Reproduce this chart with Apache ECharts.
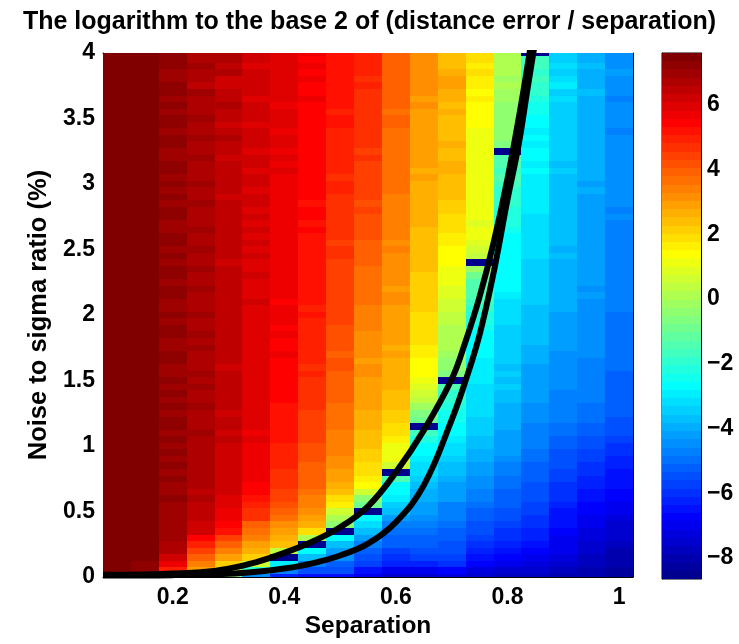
<!DOCTYPE html>
<html><head><meta charset="utf-8">
<script src="https://cdn.jsdelivr.net/npm/echarts@6/dist/echarts.min.js"></script>
<style>html,body{margin:0;padding:0;background:#fff}#c{width:739px;height:644px}</style>
</head><body><div id="c"></div>
<script>
// ---- data ----
const separations = [0.1,0.15,0.2,0.25,0.3,0.35,0.4,0.45,0.5,0.55,0.6,0.65,0.7,0.75,0.8,0.85,0.9,0.95,1.0];
const noiseLevels = [0,0.05,0.1,0.15,0.2,0.25,0.3,0.35,0.4,0.45,0.5,0.55,0.6,0.65,0.7,0.75,0.8,0.85,0.9,0.95,1,1.05,1.1,1.15,1.2,1.25,1.3,1.35,1.4,1.45,1.5,1.55,1.6,1.65,1.7,1.75,1.8,1.85,1.9,1.95,2,2.05,2.1,2.15,2.2,2.25,2.3,2.35,2.4,2.45,2.5,2.55,2.6,2.65,2.7,2.75,2.8,2.85,2.9,2.95,3,3.05,3.1,3.15,3.2,3.25,3.3,3.35,3.4,3.45,3.5,3.55,3.6,3.65,3.7,3.75,3.8,3.85,3.9,3.95,4];
const xTicks = [0.2,0.4,0.6,0.8,1];
const yTickLabels = ['0','0.5','1','1.5','2','2.5','3','3.5','4'];
const colorTicks = [-8,-6,-4,-2,0,2,4,6];
const colorMin = -8.65, colorMax = 7.6;

// log2(distance error / separation), one array per separation column, from noise 0 (first) to noise 4 (last)
const c010 = [7.5,7.6,7.6,7.6,7.6,7.6,7.6,7.6,7.6,7.6,
 7.6,7.6,7.6,7.6,7.6,7.6,7.6,7.6,7.6,7.6,
 7.6,7.6,7.6,7.6,7.6,7.6,7.6,7.6,7.6,7.6,
 7.6,7.6,7.6,7.6,7.6,7.6,7.6,7.6,7.6,7.6,
 7.6,7.6,7.6,7.6,7.6,7.6,7.6,7.6,7.6,7.6,
 7.6,7.6,7.6,7.6,7.6,7.6,7.6,7.6,7.6,7.6,
 7.6,7.6,7.6,7.6,7.6,7.6,7.6,7.6,7.6,7.6,
 7.6,7.6,7.6,7.6,7.6,7.6,7.6,7.6,7.6,7.6,
 7.6];
const c015 = [7.0,7.2,7.3,7.35,7.4,7.4,7.6,7.6,7.5,7.6,
 7.35,7.6,7.6,7.6,7.6,7.6,7.6,7.35,7.6,7.6,
 7.6,7.6,7.6,7.6,7.6,7.6,7.6,7.6,7.6,7.4,
 7.6,7.6,7.6,7.6,7.6,7.6,7.35,7.6,7.6,7.6,
 7.6,7.6,7.6,7.6,7.6,7.6,7.6,7.6,7.6,7.4,
 7.6,7.6,7.6,7.6,7.6,7.6,7.6,7.6,7.6,7.6,
 7.6,7.4,7.6,7.6,7.6,7.6,7.6,7.6,7.6,7.6,
 7.6,7.6,7.6,7.35,7.6,7.6,7.6,7.6,7.6,7.6,
 7.6];
const c020 = [3.5,5.0,5.8,6.2,6.7,6.8,6.9,6.95,7.0,6.9,
 7.0,7.05,7.1,7.0,7.05,7.1,7.0,7.1,7.05,7.1,
 7.05,7.1,7.0,7.1,7.15,7.05,7.1,7.0,7.1,7.05,
 7.1,7.0,7.05,7.1,7.1,7.0,7.05,7.1,7.1,7.05,
 7.1,7.05,7.0,7.1,7.1,7.05,7.1,7.15,7.05,7.1,
 7.05,7.1,7.1,7.0,7.05,7.1,7.1,7.05,7.1,7.0,
 7.1,7.05,7.1,7.1,7.0,7.05,7.1,7.1,7.05,7.1,
 7.3,7.05,7.1,7.05,7.1,7.1,7.0,7.05,7.1,7.1,
 7.1];
const c025 = [2.2,3.0,3.5,4.0,4.5,5.0,5.5,6.2,6.3,6.4,
 6.5,6.45,6.6,6.55,6.6,6.7,6.65,6.75,6.7,6.8,
 6.75,6.8,6.85,6.8,6.7,6.8,6.85,6.8,6.75,6.85,
 6.8,6.85,6.8,6.6,6.8,6.85,6.8,6.9,6.8,6.75,
 6.85,6.8,6.8,6.6,6.85,6.8,6.8,6.85,6.6,6.8,
 6.85,6.8,6.75,6.85,6.8,6.6,6.8,6.85,6.8,6.8,
 6.85,6.8,6.6,6.8,6.85,6.8,6.75,6.85,6.6,6.8,
 6.85,6.8,6.8,6.6,6.85,6.5,6.8,6.6,6.85,6.8,
 6.8];
const c030 = [-0.5,1.0,2.2,2.8,3.3,3.9,4.4,5.1,5.5,5.6,
 5.8,5.9,6.0,6.1,6.1,6.2,6.15,6.25,6.2,6.3,
 6.3,6.35,6.3,6.4,6.35,6.3,6.45,6.4,6.35,6.4,
 6.45,6.4,6.3,6.45,6.5,6.4,6.35,6.5,6.45,6.4,
 6.5,6.45,6.35,6.5,6.55,6.4,6.5,6.45,6.3,6.5,
 6.55,6.45,6.5,6.35,6.55,6.5,6.45,6.55,6.3,6.5,
 6.55,6.5,6.4,6.55,6.3,6.5,6.55,6.6,6.45,6.3,
 6.55,6.5,6.6,6.45,6.55,6.3,6.3,6.6,6.55,6.6,
 6.6];
const c035 = [-4.5,-2.0,0.5,2.1,2.6,3.0,3.4,3.7,4.0,4.6,
 4.8,5.0,5.2,5.4,5.5,5.6,5.65,5.7,5.7,5.75,
 5.8,5.85,5.8,5.9,5.85,5.9,5.95,5.85,5.9,5.95,
 5.9,6.0,5.95,5.9,6.0,6.05,5.95,6.0,6.05,5.95,
 6.0,6.05,6.1,5.95,6.05,6.0,6.1,6.05,5.95,6.1,
 6.05,6.1,6.0,6.15,6.05,6.1,6.0,6.1,6.15,6.05,
 6.1,6.15,6.05,6.2,6.1,6.0,6.15,6.1,6.2,6.05,
 6.15,6.2,6.1,6.0,6.2,6.15,6.1,6.2,6.0,6.15,
 6.2];
const c040 = [-6.2,-4.8,-3.0,-8.7,0.3,2.3,2.6,3.0,3.2,3.6,
 3.9,4.2,4.4,4.5,4.6,4.7,4.8,4.9,4.9,5.0,
 5.0,5.1,5.1,5.2,5.2,5.3,5.3,5.4,5.4,5.45,
 5.5,5.45,5.55,5.5,5.6,5.5,5.55,5.6,5.5,5.6,
 5.6,5.65,5.55,5.7,5.6,5.65,5.7,5.6,5.75,5.65,
 5.7,5.75,5.65,5.8,5.7,5.75,5.8,5.7,5.8,5.75,
 5.8,5.7,5.85,5.8,5.9,5.75,5.85,5.9,5.8,5.95,
 5.85,5.9,5.75,5.95,5.9,6.0,5.85,5.95,6.0,5.9,
 5.95];
const c045 = [-6.5,-5.4,-4.6,-3.6,-2.6,-8.7,0.0,1.8,2.6,3.0,
 3.2,3.3,3.5,3.6,3.8,3.8,3.9,4.0,4.1,4.1,
 4.2,4.3,4.3,4.4,4.5,4.5,4.6,4.7,4.7,4.8,
 4.8,4.85,4.8,4.9,4.9,4.95,4.9,5.0,5.0,5.05,
 5.1,5.05,5.15,5.1,5.2,5.15,5.2,5.25,5.2,5.3,
 5.25,5.3,5.2,5.35,5.3,5.35,5.4,5.3,5.4,5.35,
 5.4,5.45,5.35,5.5,5.4,5.45,5.5,5.4,5.55,5.45,
 5.5,5.55,5.45,5.6,5.5,5.55,5.6,5.5,5.6,5.55,
 5.6];
const c050 = [-6.4,-5.6,-5.1,-4.4,-4.1,-3.6,-2.6,-8.7,-0.5,0.0,
 0.5,1.7,2.0,2.3,2.6,2.8,3.0,3.1,3.2,3.3,
 3.4,3.45,3.5,3.6,3.6,3.7,3.7,3.8,3.8,3.9,
 4.0,3.95,4.05,4.1,4.0,4.15,4.2,4.1,4.25,4.3,
 4.4,4.3,4.45,4.4,4.5,4.45,4.4,4.55,4.5,4.6,
 4.6,4.55,4.7,4.6,4.75,4.7,4.65,4.8,4.75,4.85,
 4.9,4.8,4.95,4.9,5.0,4.9,5.05,5.0,4.95,5.1,
 5.1,5.05,5.15,5.2,5.1,5.25,5.2,5.15,5.3,5.25,
 5.3];
const c055 = [-7.0,-6.5,-5.8,-5.4,-5.1,-4.6,-4.1,-3.7,-3.3,-2.6,
 -8.7,-1.0,-0.4,0.6,1.3,1.6,1.9,2.0,2.1,2.2,
 2.4,2.5,2.5,2.6,2.7,2.7,2.8,2.8,2.9,3.0,
 3.0,3.05,3.1,3.0,3.15,3.2,3.25,3.2,3.35,3.4,
 3.5,3.45,3.55,3.6,3.55,3.7,3.75,3.7,3.85,3.9,
 4.0,3.95,4.1,4.05,4.15,4.2,4.3,4.25,4.35,4.4,
 4.4,4.5,4.45,4.55,4.6,4.5,4.65,4.6,4.7,4.65,
 4.7,4.75,4.7,4.8,4.75,4.85,4.8,4.9,4.85,4.9,
 4.9];
const c060 = [-7.5,-7.0,-6.3,-6.0,-5.7,-5.3,-5.1,-4.9,-4.6,-4.3,
 -3.8,-3.4,-3.0,-2.8,-2.6,-1.5,-8.7,0.5,1.0,1.1,
 1.2,1.7,1.9,2.0,2.1,2.2,2.3,2.5,2.5,2.6,
 2.7,2.65,2.75,2.7,2.8,2.75,2.85,2.8,2.9,2.95,
 3.0,2.95,3.05,3.1,3.0,3.15,3.1,3.2,3.15,3.25,
 3.3,3.25,3.3,3.4,3.35,3.45,3.4,3.5,3.45,3.55,
 3.6,3.55,3.65,3.6,3.7,3.65,3.7,3.75,3.65,3.8,
 3.8,3.75,3.85,3.9,3.8,3.95,3.9,4.0,3.9,4.0,
 4.0];
const c065 = [-7.5,-7.0,-6.2,-5.8,-5.5,-5.3,-5.1,-4.9,-4.7,-4.5,
 -4.3,-4.2,-4.0,-3.9,-3.7,-3.5,-3.3,-3.1,-2.9,-2.8,
 -2.6,-2.2,-1.6,-8.7,-0.9,-0.6,-0.2,0.3,0.6,0.9,
 1.2,1.4,1.5,1.5,1.6,1.7,1.8,1.9,1.9,2.0,
 2.0,2.1,2.15,2.1,2.2,2.25,2.2,2.3,2.35,2.3,
 2.4,2.45,2.5,2.45,2.55,2.6,2.55,2.65,2.7,2.65,
 2.75,2.8,2.7,2.85,2.8,2.9,2.85,2.95,2.9,3.0,
 3.0,2.95,3.05,3.0,3.1,3.05,3.15,3.1,3.2,3.15,
 3.2];
const c070 = [-7.2,-6.7,-6.1,-5.8,-5.6,-5.4,-5.3,-5.1,-5.0,-4.8,
 -4.7,-4.6,-4.3,-4.2,-4.1,-4.0,-3.8,-3.6,-3.5,-3.3,
 -3.1,-3.0,-2.8,-2.7,-2.5,-2.4,-2.2,-2.0,-1.8,-1.5,
 -8.7,-0.6,-0.5,-0.3,-0.2,0.0,0.0,0.1,0.2,0.3,
 0.3,0.5,0.6,0.8,0.9,1.0,1.1,1.2,1.3,1.5,
 1.5,1.6,1.7,1.8,1.9,2.0,2.1,2.2,2.3,2.3,
 2.3,2.5,2.6,2.7,2.5,2.5,2.6,2.4,2.5,2.5,
 2.5,2.6,2.5,2.6,2.7,2.8,2.8,2.7,2.5,2.5,
 2.5];
const c075 = [-7.6,-7.2,-6.8,-6.4,-6.2,-6.0,-5.8,-5.6,-5.5,-5.3,
 -5.2,-5.0,-4.8,-4.7,-4.5,-4.4,-4.3,-4.2,-4.0,-3.9,
 -3.6,-3.6,-3.5,-3.5,-3.4,-3.3,-3.3,-3.2,-3.1,-3.1,
 -3.0,-3.0,-2.9,-2.9,-2.8,-2.7,-2.6,-2.6,-2.4,-2.3,
 -2.1,-1.8,-1.6,-1.5,-1.5,-1.5,-1.0,-0.2,-8.7,0.4,
 0.7,0.9,1.0,1.0,0.9,1.0,1.0,1.1,1.0,1.0,
 1.1,1.0,1.1,1.2,1.1,1.0,1.1,1.1,1.2,1.3,
 1.4,1.5,1.5,1.6,1.5,1.6,1.7,1.8,1.7,1.8,
 1.8];
const c080 = [-7.8,-7.4,-7.1,-6.8,-6.5,-6.3,-6.1,-6.0,-5.8,-5.6,
 -5.5,-5.3,-5.2,-5.1,-5.0,-4.9,-4.7,-4.6,-4.5,-4.3,
 -4.2,-4.15,-4.1,-4.0,-4.0,-3.9,-3.85,-3.8,-3.8,-3.4,
 -3.7,-3.4,-3.6,-3.5,-3.4,-3.5,-3.4,-3.35,-3.4,-3.3,
 -3.3,-3.2,-3.1,-2.9,-2.8,-2.8,-2.7,-2.75,-2.7,-2.8,
 -2.7,-2.7,-2.6,-2.4,-2.2,-2.1,-2.2,-2.0,-1.8,-1.8,
 -1.6,-1.5,-1.6,-1.5,-1.4,-8.7,-0.6,-0.5,-0.45,-0.5,
 -0.4,-0.3,-0.3,-0.2,-0.1,0.0,-0.1,0.0,0.0,0.05,
 0.0];
const c085 = [-7.8,-7.5,-7.2,-7.0,-6.7,-6.5,-6.3,-6.2,-6.0,-5.9,
 -5.8,-5.7,-5.6,-5.5,-5.4,-5.3,-5.2,-5.1,-5.0,-4.9,
 -4.8,-4.75,-4.7,-4.6,-4.55,-4.5,-4.4,-4.3,-4.3,-4.2,
 -4.15,-4.1,-4.1,-4.0,-3.9,-3.9,-3.8,-3.75,-3.7,-3.65,
 -3.6,-3.6,-3.55,-3.5,-3.5,-3.45,-3.4,-3.4,-3.35,-3.3,
 -3.3,-3.2,-3.2,-3.15,-3.1,-3.1,-3.05,-3.0,-3.0,-2.95,
 -3.0,-2.9,-2.8,-3.0,-2.8,-2.7,-2.9,-2.8,-3.0,-2.8,
 -2.7,-2.5,-2.4,-2.3,-2.0,-1.8,-1.6,-2.0,-1.6,-1.7,
 -8.7];
const c090 = [-7.9,-7.7,-7.5,-7.3,-7.1,-7.0,-6.9,-6.7,-6.6,-6.5,
 -6.4,-6.2,-6.1,-6.0,-5.9,-5.8,-5.7,-5.6,-5.5,-5.4,
 -5.3,-5.2,-5.0,-4.9,-4.8,-4.7,-4.7,-4.6,-4.6,-4.5,
 -4.5,-4.45,-4.4,-4.4,-4.35,-4.3,-4.2,-4.25,-4.2,-4.1,
 -4.1,-4.0,-4.05,-4.0,-3.95,-4.0,-3.9,-3.85,-3.9,-3.8,
 -3.85,-3.8,-3.75,-3.8,-3.7,-3.75,-3.7,-3.65,-3.7,-3.6,
 -3.6,-3.65,-3.5,-3.6,-3.55,-3.5,-3.45,-3.5,-3.4,-3.45,
 -3.4,-3.35,-3.4,-3.3,-3.4,-3.0,-3.1,-3.4,-3.3,-3.4,
 -3.4];
const c095 = [-8.1,-8.0,-7.8,-7.7,-7.5,-7.4,-7.3,-7.2,-7.0,-6.9,
 -6.8,-6.7,-6.5,-6.4,-6.3,-6.2,-6.1,-6.0,-5.8,-5.7,
 -5.5,-5.4,-5.2,-5.1,-5.0,-4.9,-4.9,-4.8,-4.8,-4.7,
 -4.7,-4.65,-4.6,-4.6,-4.55,-4.5,-4.5,-4.45,-4.45,-4.4,
 -4.4,-4.35,-4.4,-4.3,-4.35,-4.3,-4.3,-4.25,-4.3,-4.2,
 -4.25,-4.2,-4.2,-4.15,-4.2,-4.1,-4.15,-4.1,-4.1,-4.05,
 -4.1,-4.0,-4.05,-4.0,-3.95,-4.0,-3.95,-3.9,-4.0,-3.9,
 -3.9,-3.95,-3.85,-3.9,-3.8,-3.9,-3.85,-3.9,-3.8,-3.9,
 -3.9];
const c100 = [-8.3,-8.2,-8.1,-8.0,-7.9,-7.8,-7.6,-7.5,-7.4,-7.2,
 -7.0,-6.9,-6.8,-6.7,-6.6,-6.5,-6.4,-6.3,-6.2,-6.0,
 -5.9,-5.8,-5.6,-5.5,-5.4,-5.3,-5.3,-5.2,-5.2,-5.15,
 -5.1,-5.1,-5.05,-5.0,-5.0,-5.0,-4.95,-4.9,-4.9,-4.85,
 -4.85,-4.8,-4.8,-4.75,-4.8,-4.7,-4.75,-4.7,-4.65,-4.7,
 -4.65,-4.6,-4.65,-4.6,-4.6,-4.55,-4.6,-4.5,-4.55,-4.5,
 -4.5,-4.55,-4.45,-4.5,-4.4,-4.5,-4.45,-4.4,-4.8,-4.45,
 -4.4,-4.45,-4.4,-4.7,-4.4,-4.35,-4.4,-4.3,-4.4,-4.35,
 -4.4];

// two black curves, [separation, noise %]
const curveA = [[0.075,0.018],[0.15,0.02],[0.2,0.027],[0.25,0.037],[0.3,0.065],[0.35,0.115],[0.4,0.185],[0.45,0.27],[0.5,0.38],[0.55,0.54],[0.6,0.8],[0.65,1.12],[0.7,1.51],[0.725,1.8],[0.75,2.14],[0.775,2.55],[0.8,3.04],[0.825,3.62],[0.845,4.15]];
const curveB = [[0.075,0.012],[0.2,0.015],[0.3,0.025],[0.35,0.04],[0.4,0.065],[0.45,0.105],[0.5,0.165],[0.55,0.255],[0.6,0.42],[0.65,0.7],[0.7,1.2],[0.725,1.5],[0.75,1.85],[0.775,2.32],[0.8,2.88],[0.82,3.3],[0.835,3.7],[0.852,4.15]];

// ---- build ----
const columns = [c010,c015,c020,c025,c030,c035,c040,c045,c050,c055,c060,c065,c070,c075,c080,c085,c090,c095,c100];
const cells = [];
columns.forEach((col, j) => {
  if (col.length !== noiseLevels.length) console.error('column', j, col.length);
  col.forEach((v, i) => cells.push([separations[j], noiseLevels[i], v]));
});

// MATLAB jet(64) colormap
function jet(n) {
  const m = Math.ceil(n / 4), u = [];
  for (let i = 1; i <= m; i++) u.push(i / m);
  for (let i = 0; i < m - 1; i++) u.push(1);
  for (let i = m; i >= 1; i--) u.push(i / m);
  const g0 = Math.ceil(n / 8) - (n % 4 === 1 ? 1 : 0);
  const J = Array.from({length: n}, () => [0, 0, 0]);
  for (let k = 1; k <= u.length; k++) {
    const g = g0 + k, r = g + m, b = g - m;
    if (r >= 1 && r <= n) J[r - 1][0] = u[k - 1];
    if (g >= 1 && g <= n) J[g - 1][1] = u[k - 1];
    if (b >= 1 && b <= n) J[b - 1][2] = u[k - 1];
  }
  return J.map(c => '#' + c.map(x => Math.round(x * 255).toString(16).padStart(2, '0')).join(''));
}
const NC = 64;
const cmap = jet(NC);
const step = (colorMax - colorMin) / NC;
const pieces = cmap.map((c, k) => {
  const p = {color: c};
  if (k > 0) p.gte = colorMin + k * step;
  if (k < NC - 1) p.lt = colorMin + (k + 1) * step;
  return p;
});
const bands = cmap.map((c, k) => [colorMin + k * step, colorMin + (k + 1) * step, colorMin + (k + 0.5) * step]);

const FONT = 'Liberation Sans, Arial, Helvetica, sans-serif';
const labelStyle = {fontFamily: FONT, fontWeight: 'bold', fontSize: 23, color: '#000'};
const lineBlack = {color: '#000', width: 1};
const halfW = 0.025, halfH = 0.025;

const chart = echarts.init(document.getElementById('c'), null, {renderer: 'canvas'});
chart.setOption({
  animation: false,
  backgroundColor: '#fff',
  title: {
    text: 'The logarithm to the base 2 of (distance error / separation)',
    left: 'center', top: 5,
    textStyle: {fontFamily: FONT, fontWeight: 'bold', fontSize: 25, color: '#000'}
  },
  grid: [
    {left: 103, top: 53, width: 530, height: 526, show: false},
    {left: 662, top: 53, width: 39, height: 526, show: true, borderColor: '#000', borderWidth: 1, backgroundColor: 'transparent'}
  ],
  visualMap: {
    type: 'piecewise', show: false, dimension: 2, seriesIndex: [0, 3], pieces: pieces
  },
  xAxis: [
    {type: 'value', gridIndex: 0, min: 0.075, max: 1.025, position: 'bottom',
     axisLine: {show: true, onZero: false, lineStyle: lineBlack},
     axisTick: {show: true, inside: true, length: 6, customValues: xTicks, lineStyle: lineBlack},
     axisLabel: Object.assign({customValues: xTicks, margin: 9, formatter: v => String(v)}, labelStyle),
     splitLine: {show: false},
     name: 'Separation', nameLocation: 'middle', nameGap: 36,
     nameTextStyle: {fontFamily: FONT, fontWeight: 'bold', fontSize: 24.5, color: '#000'}},
    {type: 'value', gridIndex: 0, min: 0.075, max: 1.025, position: 'top',
     axisLine: {show: true, onZero: false, lineStyle: lineBlack},
     axisTick: {show: true, inside: true, length: 6, customValues: xTicks, lineStyle: lineBlack},
     axisLabel: {show: false}, splitLine: {show: false}},
    {type: 'value', gridIndex: 1, min: 0, max: 1, show: false}
  ],
  yAxis: [
    {type: 'value', gridIndex: 0, min: 0, max: 4, interval: 0.5, position: 'left',
     axisLine: {show: true, onZero: false, lineStyle: lineBlack},
     axisTick: {show: true, inside: true, length: 6, lineStyle: lineBlack},
     axisLabel: Object.assign({margin: 8, formatter: (v, idx) => yTickLabels[idx] !== undefined ? yTickLabels[idx] : String(v)}, labelStyle),
     splitLine: {show: false},
     name: 'Noise to sigma ratio (%)', nameLocation: 'middle', nameGap: 51, nameRotate: 90,
     nameTextStyle: {fontFamily: FONT, fontWeight: 'bold', fontSize: 25.5, color: '#000'}},
    {type: 'value', gridIndex: 0, min: 0, max: 4, interval: 0.5, position: 'right',
     axisLine: {show: true, onZero: false, lineStyle: lineBlack},
     axisTick: {show: true, inside: true, length: 6, lineStyle: lineBlack},
     axisLabel: {show: false}, splitLine: {show: false}},
    {type: 'value', gridIndex: 1, min: colorMin, max: colorMax, position: 'right',
     axisLine: {show: true, onZero: false, lineStyle: lineBlack},
     axisTick: {show: true, inside: true, length: 5, customValues: colorTicks, lineStyle: lineBlack},
     axisLabel: Object.assign({customValues: colorTicks, margin: 6,
       formatter: v => v < 0 ? '\u2212' + (-v) : String(v)}, labelStyle),
     splitLine: {show: false}},
    {type: 'value', gridIndex: 1, min: colorMin, max: colorMax, position: 'left',
     axisLine: {show: true, onZero: false, lineStyle: lineBlack},
     axisTick: {show: true, inside: true, length: 5, customValues: colorTicks, lineStyle: lineBlack},
     axisLabel: {show: false}, splitLine: {show: false}}
  ],
  series: [
    {
      type: 'custom', name: 'log2 error', xAxisIndex: 0, yAxisIndex: 0, clip: true,
      data: cells, encode: {x: 0, y: 1},
      renderItem: (params, api) => {
        const x = api.value(0), y = api.value(1);
        const a = api.coord([x - halfW, y + halfH]);
        const b = api.coord([x + halfW, y - halfH]);
        const x0 = Math.round(a[0]), x1 = Math.round(b[0]);
        const y0 = Math.round(a[1]), y1 = Math.round(b[1]);
        return {type: 'rect', shape: {x: x0, y: y0, width: x1 - x0, height: y1 - y0},
                style: {fill: api.visual('color')}};
      },
      z: 1
    },
    {type: 'line', xAxisIndex: 0, yAxisIndex: 0, data: curveA, smooth: 0.4, showSymbol: false,
     lineStyle: {color: '#000', width: 6}, clip: true, z: 3},
    {type: 'line', xAxisIndex: 0, yAxisIndex: 0, data: curveB, smooth: 0.4, showSymbol: false,
     lineStyle: {color: '#000', width: 6}, clip: true, z: 3},
    {
      type: 'custom', name: 'colorbar', xAxisIndex: 2, yAxisIndex: 2, clip: true,
      data: bands,
      renderItem: (params, api) => {
        const a = api.coord([0, api.value(1)]);
        const b = api.coord([1, api.value(0)]);
        const y0 = Math.round(a[1]), y1 = Math.round(b[1]);
        return {type: 'rect', shape: {x: a[0], y: y0, width: b[0] - a[0], height: y1 - y0},
                style: {fill: api.visual('color')}};
      },
      z: 1
    }
  ]
});
</script>
</body></html>
